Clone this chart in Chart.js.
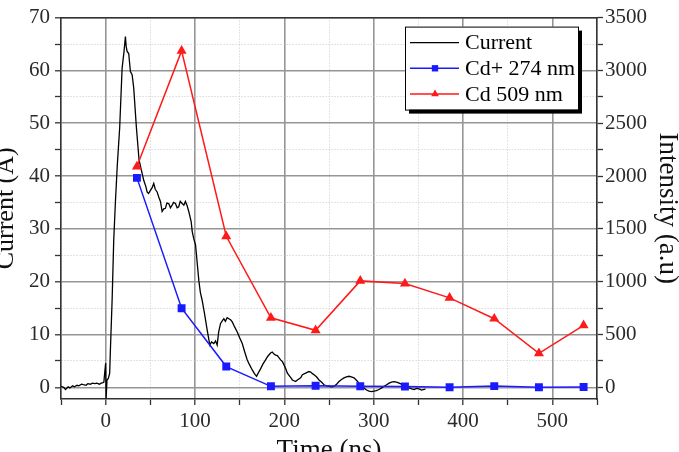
<!DOCTYPE html>
<html>
<head>
<meta charset="utf-8">
<script src="https://cdn.jsdelivr.net/npm/chart.js@4/dist/chart.umd.min.js"></script>
<style>
  html, body { margin: 0; padding: 0; background: #fff; overflow: hidden; }
  #wrap { position: relative; width: 679px; height: 452px; }
</style>
</head>
<body>
<div id="wrap"><canvas id="myChart"></canvas></div>
<script>
  'use strict'

  // current trace (ns, A)
  var currentTime = [-50, -47, -45, -42, -40, -37, -35, -32, -30, -27, -25, -22, -20, -17, -15, -12, -10, -7, -5, -3, -2, -1, 0, 0.5, 1.5, 3, 4.5, 5.3, 7.2, 9, 10.9, 13, 15.7, 18.4, 20.5, 22.1, 23, 24, 25.8, 27.7, 29.6, 31.4, 34.4, 37.4, 40, 42.6, 45, 46.4, 48, 50.1, 52, 53.8, 55.5, 57.6, 59.5, 61.3, 63.2, 65, 66.9, 68.5, 70.6, 72.5, 74.4, 76, 78.1, 80, 81.8, 83.5, 85.6, 87.5, 89.3, 91, 93, 95.7, 96.9, 98.5, 100.6, 102.5, 104.3, 106, 108.1, 110.7, 113.7, 116.6, 118.5, 121.1, 123, 124.8, 126.5, 128.6, 130.5, 132.3, 134, 136, 137.9, 139.8, 141.7, 144.5, 147.3, 150, 152.9, 155.5, 158.5, 161, 164.1, 166.5, 168.9, 171, 173.4, 176, 179, 181.5, 184.6, 186.5, 188.5, 190.2, 192.2, 195.8, 197.8, 201.4, 203.4, 207, 209, 212.6, 214.6, 218.3, 220.2, 223.9, 227.6, 229.5, 231.5, 233.2, 236, 238.8, 241.5, 244.4, 247, 250, 253, 255.6, 258.5, 261.2, 264, 266.8, 269.5, 272.4, 275, 278, 281, 283.6, 286.5, 289.2, 292, 294.8, 297.5, 300.4, 303, 306, 309, 311.7, 314.5, 317.3, 320, 322.9, 325.5, 328.5, 331, 334, 337, 339.7, 342.5, 345.3, 348, 350.9, 353.5, 356.5, 358];
  var currentAmps = [0.2, 0.0, -0.4, 0.1, -0.1, 0.3, 0.1, 0.4, 0.3, 0.6, 0.5, 0.4, 0.7, 0.6, 0.8, 0.7, 0.8, 0.6, 0.8, 0.9, 1.0, 2.9, 4.6, -2.1, 1.4, 1.7, 2.7, 7.1, 16.4, 27.7, 35.1, 42, 49.2, 60.4, 63.5, 66.4, 64.5, 63.6, 63.2, 59.8, 59.2, 56.7, 49.2, 43.0, 41.1, 39.2, 38.0, 37.0, 36.7, 37.3, 37.8, 38.6, 37.5, 37.0, 36.0, 35.2, 33.3, 33.8, 33.9, 34.9, 34.8, 34.0, 34.5, 35.0, 34.8, 34.0, 34.2, 35.2, 34.8, 34.5, 35.2, 34.5, 33.3, 31.4, 29.5, 28.2, 27.0, 23.5, 20.2, 18.0, 16.4, 13.9, 10.8, 8.0, 8.6, 8.3, 8.8, 8.0, 10.5, 12.1, 12.6, 13.0, 12.5, 13.2, 13.0, 12.8, 12.4, 11.4, 10.5, 9.4, 8.3, 6.8, 5.2, 4.3, 3.3, 2.6, 2.1, 2.8, 3.5, 4.4, 5.2, 5.9, 6.5, 6.7, 6.3, 6.1, 6.0, 5.2, 4.9, 3.6, 2.7, 1.9, 1.4, 1.1, 1.4, 1.8, 2.4, 2.7, 3.0, 2.9, 2.6, 2.4, 2.0, 1.4, 1.0, 0.5, 0.3, 0.2, 0.1, 0.2, 0.6, 1.1, 1.5, 1.8, 2.0, 2.1, 2.0, 1.8, 1.3, 0.8, 0.3, -0.1, -0.5, -0.7, -0.8, -0.7, -0.6, -0.4, -0.1, 0.2, 0.5, 0.8, 1.0, 1.1, 1.0, 0.8, 0.6, 0.5, 0.2, -0.1, -0.3, -0.4, -0.2, -0.3, -0.5, -0.4, -0.3];

  // emission lines (ns, a.u)
  var lineTime = [35, 85, 135, 185, 235, 285, 335, 385, 435, 485, 535];
  var cdIon274 = [1983, 749, 197, 10, 15, 10, 8, 2, 12, 2, 4];
  var cd509 = [2090, 3185, 1430, 659, 540, 1008, 983, 847, 650, 322, 587];

  function xy(xs, ys) {
    return xs.map(function (x, i) { return { x: x, y: ys[i] } });
  }

  Chart.defaults.font.family = "'Liberation Serif', 'Times New Roman', serif";
  Chart.defaults.color = '#2a2a2a';

  var ink = '#333';
  var tickFont = { size: 21 };

  function isMajor(ctx, step) {
    return ctx.tick && Math.abs(ctx.tick.value % step) < 1e-6;
  }
  function gridStyle(step) {
    return {
      color: function (ctx) { return isMajor(ctx, step) ? '#959595' : '#c8c8c8' },
      lineWidth: function (ctx) { return isMajor(ctx, step) ? 1.6 : 1 },
      tickLength: 6,
      tickColor: ink,
      tickWidth: 1.3
    };
  }
  function borderStyle(step) {
    return {
      color: ink,
      width: 1.6,
      dash: function (ctx) { return (!ctx.tick || isMajor(ctx, step)) ? [] : [1, 2] }
    };
  }

  // legend drawn as a framed box with a drop shadow, like the original plot
  var boxLegend = {
    id: 'boxLegend',
    afterDraw: function (chart) {
      var c = chart.ctx;
      var area = chart.chartArea;
      var w = 173, h = 83;
      var x0 = area.right - 19 - w, y0 = area.top + 9;
      c.save();
      c.fillStyle = '#000';
      c.fillRect(x0 + 4, y0 + 4, w, h);
      c.fillStyle = '#fff';
      c.fillRect(x0, y0, w, h);
      c.strokeStyle = '#000';
      c.lineWidth = 1;
      c.strokeRect(x0 + 0.5, y0 + 0.5, w, h);
      c.font = '22px ' + Chart.defaults.font.family;
      c.textBaseline = 'middle';
      chart.data.datasets.forEach(function (ds, i) {
        var y = y0 + 16 + i * 25.7;
        c.strokeStyle = ds.borderColor;
        c.lineWidth = ds.borderWidth;
        c.beginPath();
        c.moveTo(x0 + 5, y);
        c.lineTo(x0 + 54, y);
        c.stroke();
        if (ds.pointRadius > 0) {
          c.fillStyle = ds.pointBackgroundColor;
          c.strokeStyle = ds.pointBackgroundColor;
          Chart.helpers.drawPoint(c, { pointStyle: ds.pointStyle, radius: 4.5, borderWidth: 0, rotation: 0 }, x0 + 30, y);
        }
        c.fillStyle = '#000';
        c.fillText(ds.label, x0 + 60, y + 1);
      });
      c.restore();
    }
  };

  var ctx = document.getElementById('myChart');

  var myChart = new Chart(ctx, {
    type: 'line',
    data: {
      datasets: [
        {
          label: 'Current',
          data: xy(currentTime, currentAmps),
          yAxisID: 'y',
          borderColor: '#000',
          borderWidth: 1.3,
          pointRadius: 0,
          tension: 0,
          order: 3
        },
        {
          label: 'Cd+ 274 nm',
          data: xy(lineTime, cdIon274),
          yAxisID: 'y2',
          borderColor: '#1a1aff',
          backgroundColor: '#1a1aff',
          pointBackgroundColor: '#1a1aff',
          pointBorderWidth: 0,
          borderWidth: 1.5,
          pointStyle: 'rect',
          pointRadius: 5.6,
          tension: 0,
          order: 2
        },
        {
          label: 'Cd 509 nm',
          data: xy(lineTime, cd509),
          yAxisID: 'y2',
          borderColor: '#ff1a1a',
          backgroundColor: '#ff1a1a',
          pointBackgroundColor: '#ff1a1a',
          pointBorderWidth: 0,
          borderWidth: 1.5,
          pointStyle: 'triangle',
          pointRadius: 5.8,
          tension: 0,
          order: 1
        }
      ]
    },
    options: {
      responsive: true,
      maintainAspectRatio: false,
      animation: false,
      layout: { padding: 0 },
      plugins: {
        legend: { display: false },
        tooltip: { enabled: false }
      },
      scales: {
        x: {
          type: 'linear',
          position: 'bottom',
          min: -50,
          max: 550,
          ticks: {
            stepSize: 50,
            includeBounds: false,
            autoSkip: false,
            maxRotation: 0,
            padding: 4,
            font: tickFont,
            callback: function (v) { return v % 100 === 0 ? v : '' }
          },
          grid: gridStyle(100),
          border: borderStyle(100),
          title: {
            display: true,
            text: 'Time (ns)',
            font: { size: 27 },
            color: '#111',
            padding: { top: 0, bottom: -14.7 }
          },
          afterFit: function (s) { s.height = 53 }
        },
        xTop: {
          type: 'linear',
          position: 'top',
          min: -50,
          max: 550,
          ticks: { display: false },
          grid: { drawOnChartArea: false, drawTicks: false },
          border: { color: ink, width: 1.6 },
          afterFit: function (s) { s.height = 14 }
        },
        y: {
          type: 'linear',
          position: 'left',
          min: -2.2,
          max: 70,
          ticks: {
            stepSize: 5,
            includeBounds: false,
            autoSkip: false,
            padding: 5,
            font: tickFont,
            callback: function (v) { return v % 10 === 0 ? v : '' }
          },
          grid: gridStyle(10),
          border: borderStyle(10),
          title: {
            display: true,
            text: 'Current (A)',
            font: { size: 26 },
            color: '#111',
            padding: { top: -9.5, bottom: 0 }
          },
          afterFit: function (s) { s.width = 61 }
        },
        y2: {
          type: 'linear',
          position: 'right',
          min: -110,
          max: 3500,
          ticks: {
            stepSize: 250,
            includeBounds: false,
            autoSkip: false,
            padding: 2,
            font: tickFont,
            callback: function (v) { return v % 500 === 0 ? v : '' }
          },
          grid: {
            drawOnChartArea: false,
            tickLength: 6,
            tickColor: ink,
            tickWidth: 1.3
          },
          border: { color: ink, width: 1.6 },
          title: {
            display: true,
            text: 'Intensity (a.u)',
            font: { size: 27 },
            color: '#111',
            padding: { top: -4.2, bottom: 0 }
          },
          afterFit: function (s) { s.width = 82 }
        }
      }
    },
    plugins: [boxLegend]
  });
</script>
</body>
</html>
